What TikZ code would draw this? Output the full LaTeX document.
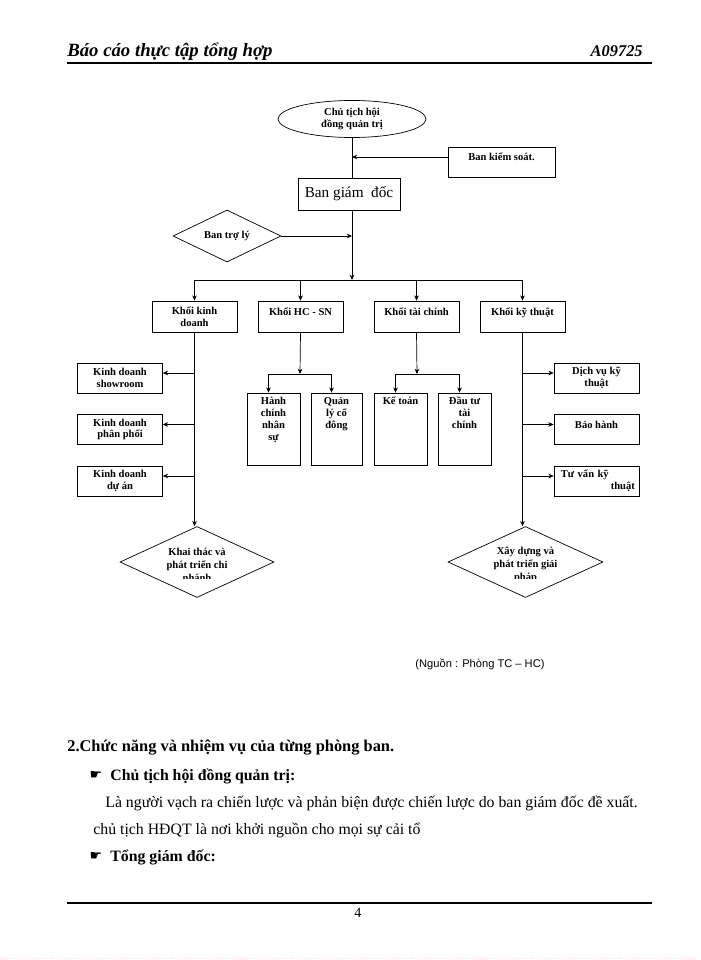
\documentclass[tikz,border=0pt]{standalone}
\usepackage{fontspec}
\setmainfont{Liberation Serif}
\newfontfamily\handfont{DejaVu Sans}
\newfontfamily\notefont{Liberation Sans}
\usetikzlibrary{arrows.meta, positioning, shapes.geometric}

\begin{document}
\begin{tikzpicture}[x=0.03cm, y=-0.03cm, ->, >={Stealth[length=4.5pt, width=4pt]}, line width=0.6pt,
    small/.style={font=\fontsize{9}{10}\selectfont\bfseries},
    box/.style={draw, rectangle, inner sep=1pt, align=center, small},
    unit/.style={box, minimum width=2.55cm, minimum height=0.93cm},
    side/.style={box, minimum width=2.55cm, minimum height=0.9cm},
    high/.style={text depth=0.3cm},
    tall/.style={draw, rectangle, minimum width=1.59cm, minimum height=2.16cm},
    talltext/.style={anchor=north, inner sep=0pt, align=center, font=\fontsize{9}{10.2}\selectfont\bfseries},
    decide/.style={draw, diamond, aspect=2, inner sep=0pt},
    body/.style={anchor=base west, inner sep=0pt, font=\fontsize{13.5}{15}\selectfont}]

    \useasboundingbox (0,0) rectangle (700,960);

    % Page header
    \node[anchor=base west, inner sep=0pt, font=\fontsize{16}{18}\selectfont\bfseries\itshape] (tieude) at (67,57) {Báo cáo thực tập tổng hợp};
    \node[anchor=base east, inner sep=0pt, font=\fontsize{14}{16}\selectfont\bfseries\itshape] (maso) at (643,57) {A09725};
    \draw[-, line width=1.4pt] (67,63) -- (652,63);

    % Nodes
    \node[draw, ellipse, minimum width=4.44cm, minimum height=1.11cm, inner sep=0pt, align=center, small] (chutich) at (352,119) {Chủ tịch hội\\đồng quản trị};
    \node[box, high, minimum width=3.21cm, minimum height=0.9cm] (kiemsoat) at (501.5,162) {Ban kiểm soát.};
    \node[draw, rectangle, minimum width=3.06cm, minimum height=0.96cm, font=\fontsize{13}{15}\selectfont] (bgd) at (349,194) {Ban giám \ đốc};
    \node[decide, minimum width=3.24cm, minimum height=1.56cm, small] (troly) at (227,236) {Ban trợ lý};
    \coordinate (bus) at (352,280);

    \node[unit] (kd) at (194.5,316.5) {Khối kinh\\doanh};
    \node[unit, high] (hc) at (300.5,316.5) {Khối HC - SN};
    \node[unit, high] (tc) at (416.5,316.5) {Khối tài chính};
    \node[unit, high] (kt) at (522.5,316.5) {Khối kỹ thuật};

    \node[side] (ks) at (120,378) {Kinh doanh\\showroom};
    \node[side] (pp) at (120,429.5) {Kinh doanh\\phân phối};
    \node[side] (da) at (120,481) {Kinh doanh\\dự án};

    \node[side] (dv) at (596.5,378) {Dịch vụ kỹ\\thuật};
    \node[side, high] (bh) at (596.5,429.5) {Bảo hành};
    \node[side, text width=2.3cm, align=left] (tv) at (596.5,481) {\hspace*{0.08cm}Tư vấn kỹ\\\hspace*{\fill}thuật};

    \coordinate (hcbus) at (300,374);
    \coordinate (tcbus) at (417,374);
    \node[tall] (hanhchinh) at (273.5,429) {};
    \node[tall, minimum width=1.53cm] (quanly) at (336.5,429) {};
    \node[tall] (ketoan) at (400.5,429) {};
    \node[tall] (dautu) at (464.5,429) {};
    \node[talltext] (hanhchinhT) at ([yshift=-0.12cm]hanhchinh.north) {Hành\\chính\\nhân\\sự};
    \node[talltext] (quanlyT) at ([yshift=-0.12cm]quanly.north) {Quản\\lý cổ\\đông};
    \node[talltext] (ketoanT) at ([yshift=-0.12cm]ketoan.north) {Kế toán};
    \node[talltext] (dautuT) at ([yshift=-0.12cm]dautu.north) {Đầu tư\\tài\\chính};

    \node[decide, minimum width=4.62cm, minimum height=2.13cm] (khaithac) at (197,562) {};
    \node[decide, minimum width=4.65cm, minimum height=2.13cm] (xaydung) at (525.5,562) {};
    \begin{scope}
        \clip (120,527) rectangle (603,578);
        \node[inner sep=0pt, align=center, font=\fontsize{9}{11}\selectfont\bfseries] (khaithacT) at (197,565) {Khai thác và\\phát triển chi\\nhánh};
        \node[inner sep=0pt, align=center, font=\fontsize{9}{11}\selectfont\bfseries] (xaydungT) at (525.5,565) {Xây dựng và\\phát triển giải\\pháp};
    \end{scope}

    % Top part
    \draw[-] (chutich.south) -- (chutich.south |- bgd.north);
    \draw ([yshift=0.15cm]kiemsoat.west) -- ([yshift=0.15cm]kiemsoat.west -| chutich.south);
    \draw (chutich.south |- bgd.south) -- (bus);
    \draw (troly.east) -- (troly.east -| chutich.south);

    % Bus to the four blocks
    \draw[-] (kd.north |- bus) -- (kt.north |- bus);
    \foreach \k in {kd, hc, tc, kt}
        \draw (\k.north |- bus) -- (\k.north);

    % Kinh doanh branch
    \draw (kd.south) -- (kd.south |- khaithac.north);
    \foreach \k in {ks, pp, da}
        \draw ([yshift=0.15cm]\k.east -| kd.south) -- ([yshift=0.15cm]\k.east);

    % Ky thuat branch
    \draw (kt.south) -- (kt.south |- xaydung.north);
    \foreach \k in {dv, bh, tv}
        \draw ([yshift=0.15cm]\k.west -| kt.south) -- ([yshift=0.15cm]\k.west);

    % HC - SN and tai chinh
    \draw (hc.south) -- (hcbus);
    \draw[-] ([xshift=-0.15cm]hanhchinh.north |- hcbus) -- ([xshift=-0.15cm]quanly.north |- hcbus);
    \draw ([xshift=-0.15cm]hanhchinh.north |- hcbus) -- ([xshift=-0.15cm]hanhchinh.north);
    \draw ([xshift=-0.15cm]quanly.north |- hcbus) -- ([xshift=-0.15cm]quanly.north);
    \draw (tc.south) -- (tcbus);
    \draw[-] ([xshift=-0.15cm]ketoan.north |- tcbus) -- ([xshift=-0.15cm]dautu.north |- tcbus);
    \draw ([xshift=-0.15cm]ketoan.north |- tcbus) -- ([xshift=-0.15cm]ketoan.north);
    \draw ([xshift=-0.15cm]dautu.north |- tcbus) -- ([xshift=-0.15cm]dautu.north);

    % Source
    \node[font=\notefont\fontsize{9.5}{11}\selectfont] (nguon) at (480,664) {(Nguồn : Phòng TC – HC)};

    % Text below
    \node[body, font=\fontsize{14}{16}\selectfont\bfseries] (muc) at (67,751) {2.Chức năng và nhiệm vụ của từng phòng ban.};
    \node[font=\handfont\fontsize{12}{14}\selectfont] (tay1) at (96,775) {☛};
    \node[body, font=\fontsize{13.5}{15}\selectfont\bfseries] (ct) at (110,780) {Chủ tịch hội đồng quản trị:};
    \node[body] (dong1) at (105,807) {Là người vạch ra chiến lược và phản biện được chiến lược do ban giám đốc đề xuất.};
    \node[body] (dong2) at (93,834) {chủ tịch HĐQT là nơi khởi nguồn cho mọi sự cải tổ};
    \node[font=\handfont\fontsize{12}{14}\selectfont] (tay2) at (96,856) {☛};
    \node[body, font=\fontsize{13.5}{15}\selectfont\bfseries] (tgd) at (110,861) {Tổng giám đốc:};

    % Page footer
    \draw[-, line width=1.2pt] (67,903) -- (652,903);
    \node[font=\fontsize{12}{14}\selectfont] (trang) at (358,913) {4};
    \draw[-, densely dotted, pink!50] (0,958) -- (700,958);
\end{tikzpicture}
\end{document}
